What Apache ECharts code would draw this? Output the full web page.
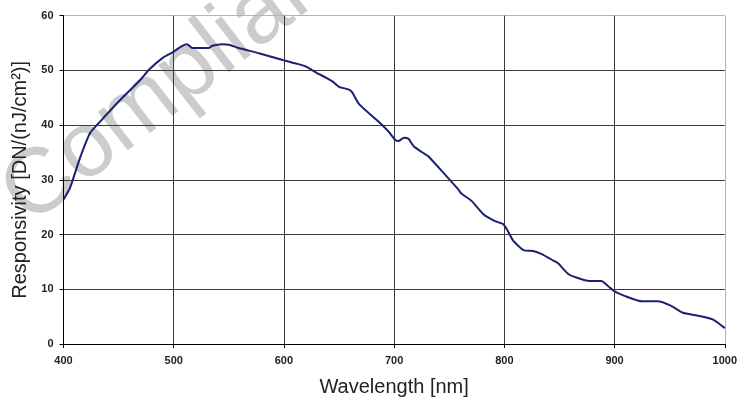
<!DOCTYPE html>
<html>
<head>
<meta charset="utf-8">
<script src="https://cdn.jsdelivr.net/npm/echarts@6/dist/echarts.min.js"></script>
<style>
html,body{margin:0;padding:0;background:#fff;}
#chart{width:740px;height:402px;}
</style>
</head>
<body>
<div id="chart"></div>
<script>
var wavelengths = [400,406,415,424,433,451,469,478,490,499,507,512,517,532,535,544,550,559,578,599,614,620,632,638,644,650,659,662,668,686,695,701,704,709,713,718,728,731,746,758,761,770,781,791,799,803,808,818,826,833,844,849,858,866,877,888,894,900,909,925,939,951,962,975,989,1000];
var responsivity = [26.4,28.6,34.0,38.5,40.6,44.5,48.1,50.2,52.3,53.3,54.4,54.8,54.1,54.1,54.5,54.8,54.7,54.1,53.1,51.9,51.1,50.7,49.3,48.7,48.0,47.0,46.5,46.0,43.9,40.6,38.8,37.3,37.1,37.7,37.5,36.1,34.7,34.3,31.0,28.3,27.5,26.2,23.7,22.5,21.9,20.7,18.9,17.1,17.0,16.5,15.3,14.7,12.8,12.1,11.5,11.5,10.6,9.6,8.8,7.8,7.8,7.0,5.7,5.2,4.5,2.9];
var xTicks = [400,500,600,700,800,900,1000];
var yTicks = [0,10,20,30,40,50,60];
var xTitle = 'Wavelength [nm]';
var yTitle = 'Responsivity [DN/(nJ/cm\u00B2)]';
var watermark = 'Compliance';

var pts = wavelengths.map(function(w,i){return [w, responsivity[i]];});
var chart = echarts.init(document.getElementById('chart'));
var font = '"Liberation Sans", Arial, sans-serif';
var gridColorsX = xTicks.map(function(v,i){return i===xTicks.length-1 ? '#b4b4b4' : '#3a3a3a';});
var gridColorsY = yTicks.map(function(v,i){return i===yTicks.length-1 ? '#b4b4b4' : '#3a3a3a';});
chart.setOption({
  animation:false,
  backgroundColor:'#fff',
  graphic:[{
    type:'text', z:-100, silent:true,
    x:-14, y:170, rotation:0.66,
    style:{text:watermark, font:'92px "Liberation Sans", Arial, sans-serif', fill:'#cccccc', textAlign:'left', textVerticalAlign:'alphabetic'}
  }],
  grid:{left:63.5, right:12.3, top:15.7, bottom:53.7, containLabel:false},
  xAxis:{
    type:'value', min:400, max:1000, interval:100,
    axisLine:{lineStyle:{color:'#000', width:1}},
    axisTick:{show:true, length:4, lineStyle:{color:'#000'}},
    axisLabel:{color:'#222', fontFamily:font, fontWeight:'bold', fontSize:11, margin:11, formatter:function(v){return String(v);}},
    splitLine:{show:true, lineStyle:{color:gridColorsX, width:1}},
    name:xTitle, nameLocation:'middle', nameGap:33,
    nameTextStyle:{color:'#222', fontFamily:font, fontSize:20}
  },
  yAxis:{
    type:'value', min:0, max:60, interval:10,
    axisLine:{show:true, lineStyle:{color:'#000', width:1}},
    axisTick:{show:true, length:4, lineStyle:{color:'#000'}},
    axisLabel:{color:'#222', fontFamily:font, fontWeight:'bold', fontSize:11, margin:10, formatter:function(v){return String(v);}},
    splitLine:{show:true, lineStyle:{color:gridColorsY, width:1}},
    name:yTitle, nameLocation:'middle', nameGap:32,
    nameTextStyle:{color:'#222', fontFamily:font, fontSize:20}
  },
  series:[{
    type:'line', data:pts, showSymbol:false, symbol:'none', smooth:0.2,
    lineStyle:{color:'#1b2070', width:2}
  }]
});
</script>
</body>
</html>
